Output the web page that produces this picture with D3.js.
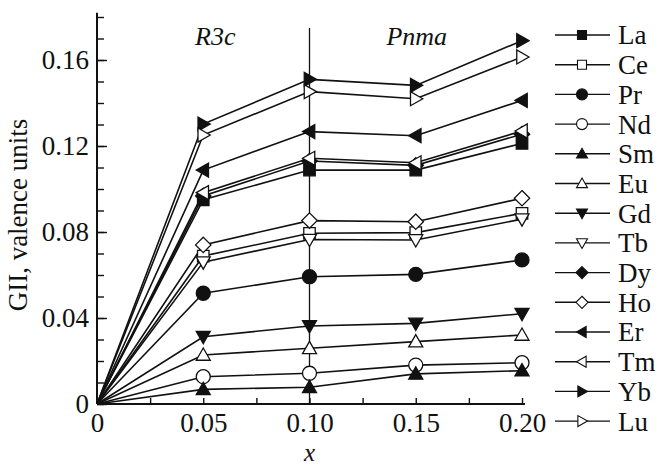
<!DOCTYPE html>
<html>
<head>
<meta charset="utf-8">
<script src="https://cdn.jsdelivr.net/npm/d3@7"></script>
<style>
  html, body { margin: 0; padding: 0; background: #fff; }
  svg { display: block; }
  svg text { font-family: "Liberation Serif", Tinos, "Times New Roman", Times, "DejaVu Serif", serif; fill: #111; }
</style>
</head>
<body>
<svg id="chart" width="659" height="466"></svg>
<script>
// Composition x for each measured sample
const xValues = [0, 0.05, 0.10, 0.15, 0.20];

// GII (valence units) per rare-earth element
const La = [0, 0.0950, 0.1088, 0.1088, 0.1212];
const Ce = [0, 0.0688, 0.0794, 0.0797, 0.0887];
const Pr = [0, 0.0515, 0.0592, 0.0603, 0.0670];
const Nd = [0, 0.0127, 0.0143, 0.0181, 0.0192];
const Sm = [0, 0.0068, 0.0078, 0.0140, 0.0155];
const Eu = [0, 0.0228, 0.0259, 0.0290, 0.0321];
const Gd = [0, 0.0313, 0.0363, 0.0375, 0.0420];
const Tb = [0, 0.0660, 0.0765, 0.0763, 0.0860];
const Dy = [0, 0.0968, 0.1130, 0.1110, 0.1255];
const Ho = [0, 0.0740, 0.0853, 0.0848, 0.0957];
const Er = [0, 0.1088, 0.1267, 0.1248, 0.1412];
const Tm = [0, 0.0983, 0.1143, 0.1122, 0.1270];
const Yb = [0, 0.1302, 0.1510, 0.1482, 0.1690];
const Lu = [0, 0.1251, 0.1453, 0.1420, 0.1614];

const elements = ["La", "Ce", "Pr", "Nd", "Sm", "Eu", "Gd", "Tb", "Dy", "Ho", "Er", "Tm", "Yb", "Lu"];
const valuesByElement = { La, Ce, Pr, Nd, Sm, Eu, Gd, Tb, Dy, Ho, Er, Tm, Yb, Lu };
const markerShape = {
  La: "square", Ce: "square", Pr: "circle", Nd: "circle", Sm: "triUp", Eu: "triUp",
  Gd: "triDown", Tb: "triDown", Dy: "diamond", Ho: "diamond", Er: "triLeft",
  Tm: "triLeft", Yb: "triRight", Lu: "triRight"
};
const markerFilled = {
  La: true, Ce: false, Pr: true, Nd: false, Sm: true, Eu: false, Gd: true, Tb: false,
  Dy: true, Ho: false, Er: true, Tm: false, Yb: true, Lu: false
};

const yMajorTicks = [0, 0.04, 0.08, 0.12, 0.16];
const yMinorTicks = d3.range(0, 0.181, 0.01);
const xMajorTicks = [0, 0.05, 0.10, 0.15, 0.20];
const xMinorTicks = [0.025, 0.075, 0.125, 0.175];
const phaseNames = ["R3c", "Pnma"];
const phaseCenters = [0.05, 0.15];
const phaseBoundary = 0.10;

const FONT = '"Liberation Serif", Tinos, "Times New Roman", Times, "DejaVu Serif", serif';
const FS = 27;

const svg = d3.select("#chart");
const x = d3.scaleLinear().domain([0, 0.20]).range([97, 522]);
const y = d3.scaleLinear().domain([0, 0.16]).range([404, 60]);
const yTop = 0.182;

// marker path generator, r = half-size
function markerPath(shape, r) {
  const p = d3.path();
  switch (shape) {
    case "square":
      p.rect(-r * 0.82, -r * 0.82, r * 1.64, r * 1.64); break;
    case "circle":
      p.arc(0, 0, r, 0, 2 * Math.PI); break;
    case "triUp":
      p.moveTo(0, -r); p.lineTo(r, r * 0.75); p.lineTo(-r, r * 0.75); p.closePath(); break;
    case "triDown":
      p.moveTo(0, r); p.lineTo(r, -r * 0.75); p.lineTo(-r, -r * 0.75); p.closePath(); break;
    case "triLeft":
      p.moveTo(-r, 0); p.lineTo(r * 0.75, -r); p.lineTo(r * 0.75, r); p.closePath(); break;
    case "triRight":
      p.moveTo(r, 0); p.lineTo(-r * 0.75, -r); p.lineTo(-r * 0.75, r); p.closePath(); break;
    case "diamond":
      p.moveTo(0, -r * 1.1); p.lineTo(r * 1.1, 0); p.lineTo(0, r * 1.1); p.lineTo(-r * 1.1, 0); p.closePath(); break;
  }
  return p.toString();
}

// axes: minor ticks, major ticks with labels, both pointing into the plot
const yAxisG = svg.append("g").attr("transform", `translate(${x(0)},0)`);
yAxisG.call(d3.axisRight(y).tickValues(yMinorTicks).tickSize(7).tickFormat(""));
yAxisG.call(g => g.select(".domain").remove());
const yMajor = svg.append("g").attr("transform", `translate(${x(0)},0)`)
  .call(d3.axisRight(y).tickValues(yMajorTicks).tickSize(10)
    .tickFormat(d => d === 0 ? "0" : d3.format(".2f")(d)));
yMajor.attr("font-family", FONT);
yMajor.select(".domain").remove();
yMajor.selectAll("text").attr("x", -8).attr("text-anchor", "end")
  .attr("font-size", FS).attr("fill", "#111");

const xAxisG = svg.append("g").attr("transform", `translate(0,${y(0)})`);
xAxisG.call(d3.axisTop(x).tickValues(xMinorTicks).tickSize(6).tickFormat(""));
xAxisG.select(".domain").remove();
const xMajor = svg.append("g").attr("transform", `translate(0,${y(0)})`)
  .call(d3.axisTop(x).tickValues(xMajorTicks).tickSize(6)
    .tickFormat(d => d === 0 ? "0" : d3.format(".2f")(d)));
xMajor.attr("font-family", FONT);
xMajor.select(".domain").remove();
xMajor.selectAll("text").attr("y", 28).attr("dy", 0).attr("text-anchor", "middle")
  .attr("font-size", FS).attr("fill", "#111");
svg.selectAll(".tick line").attr("stroke", "#111").attr("stroke-width", 1.4);

// axis lines
svg.append("line").attr("x1", x(0)).attr("x2", x(0)).attr("y1", y(0)).attr("y2", y(yTop))
  .attr("stroke", "#111").attr("stroke-width", 2);
svg.append("line").attr("x1", x(0)).attr("x2", x(0.2) + 3).attr("y1", y(0)).attr("y2", y(0))
  .attr("stroke", "#111").attr("stroke-width", 2);

// phase boundary
svg.append("line").attr("x1", x(phaseBoundary)).attr("x2", x(phaseBoundary))
  .attr("y1", y(0)).attr("y2", 28).attr("stroke", "#111").attr("stroke-width", 1.3);

const phaseShift = [12, 1];
svg.selectAll(".phase").data(phaseNames).enter().append("text")
  .attr("x", (d, i) => x(phaseCenters[i]) + phaseShift[i]).attr("y", 45)
  .attr("text-anchor", "middle")
  .attr("font-size", 26).attr("font-style", "italic").text(d => d);

// axis titles
svg.append("text").attr("transform", "translate(27,215) rotate(-90)")
  .attr("text-anchor", "middle").attr("font-size", FS).text("GII, valence units");
svg.append("text").attr("x", x(0.10)).attr("y", 461).attr("text-anchor", "middle")
  .attr("font-size", 25).attr("font-style", "italic").text("x");

// series lines
const line = d3.line().x((d, i) => x(xValues[i])).y(d => y(d));
const plot = svg.append("g");
elements.forEach(el => {
  plot.append("path").attr("d", line(valuesByElement[el]))
    .attr("fill", "none").attr("stroke", "#111").attr("stroke-width", 1.6);
});
// markers (none at the common origin)
elements.forEach(el => {
  const vals = valuesByElement[el];
  plot.selectAll(null).data(vals.map((v, i) => ({ v, i })).filter(d => d.i > 0))
    .enter().append("path")
    .attr("transform", d => `translate(${x(xValues[d.i])},${y(d.v)})`)
    .attr("d", markerPath(markerShape[el], 7))
    .attr("fill", markerFilled[el] ? "#111" : "#fff")
    .attr("stroke", "#111").attr("stroke-width", 1.3);
});

// legend
const legend = svg.append("g");
const rowY = i => 35 + i * 29.7;
elements.forEach((el, i) => {
  const g = legend.append("g").attr("transform", `translate(0,${rowY(i)})`);
  g.append("line").attr("x1", 555).attr("x2", 610).attr("y1", 0).attr("y2", 0)
    .attr("stroke", "#111").attr("stroke-width", 1.4);
  g.append("path").attr("transform", "translate(582,0)")
    .attr("d", markerPath(markerShape[el], 5.5))
    .attr("fill", markerFilled[el] ? "#111" : "#fff")
    .attr("stroke", "#111").attr("stroke-width", 1.1);
  g.append("text").attr("x", 618).attr("y", 0).attr("dy", "0.35em")
    .attr("font-size", FS).text(el);
});
</script>
</body>
</html>
